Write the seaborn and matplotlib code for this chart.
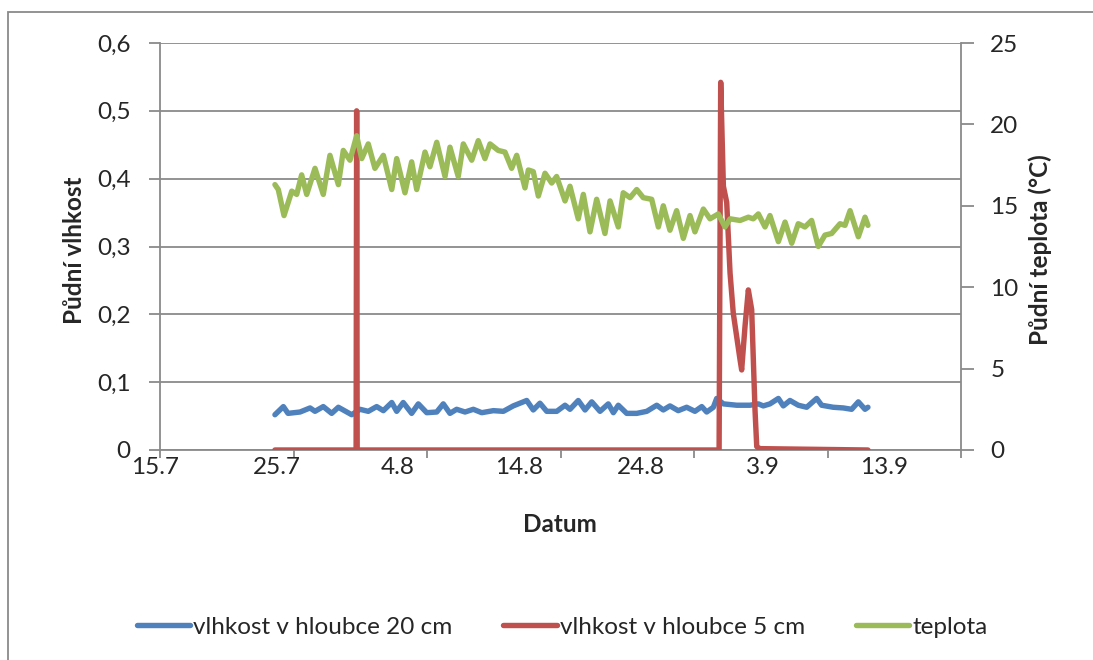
import matplotlib
matplotlib.use("Agg")
import matplotlib.pyplot as plt
import matplotlib.transforms as mtransforms
import seaborn as sns
import pandas as pd
import numpy as np
from matplotlib.patches import Rectangle
from matplotlib.lines import Line2D

# Time is given in days since 15 July 00:00
den_20cm = [8.61, 9.24, 9.59, 10.49, 11.24, 11.61, 12.23, 12.86, 13.36, 14.36,
            14.98, 15.60, 16.23, 16.73, 17.36, 17.73, 18.22, 18.85, 19.35, 19.98,
            20.73, 21.22, 21.72, 22.22, 22.85, 23.47, 24.10, 24.97, 25.72, 26.46,
            27.47, 27.96, 28.46, 28.97, 29.72, 30.34, 30.71, 31.33, 31.84, 32.34,
            32.96, 33.58, 33.96, 34.33, 34.96, 35.71, 36.46, 37.21, 37.70, 38.20,
            38.82, 39.45, 40.07, 40.58, 40.95, 41.45, 41.70, 42.20, 43.20, 44.19,
            44.82, 45.19, 45.69, 46.32, 46.69, 47.19, 47.81, 48.44, 49.19, 49.56,
            50.43, 51.18, 51.81, 52.31, 52.81, 53.03]
vlhkost_20cm = [0.052, 0.064, 0.054, 0.056, 0.062, 0.057, 0.064, 0.054, 0.063, 0.052,
                0.060, 0.057, 0.064, 0.058, 0.070, 0.057, 0.070, 0.054, 0.068, 0.055,
                0.056, 0.068, 0.054, 0.060, 0.056, 0.060, 0.055, 0.058, 0.057, 0.065,
                0.073, 0.059, 0.069, 0.057, 0.057, 0.066, 0.060, 0.073, 0.059, 0.071,
                0.057, 0.068, 0.055, 0.066, 0.054, 0.054, 0.057, 0.066, 0.059, 0.065,
                0.058, 0.063, 0.057, 0.064, 0.056, 0.063, 0.076, 0.068, 0.066, 0.066,
                0.068, 0.065, 0.068, 0.076, 0.065, 0.073, 0.066, 0.063, 0.076, 0.066,
                0.063, 0.062, 0.060, 0.071, 0.060, 0.063]

den_5cm = [8.61, 14.69, 14.73, 14.77, 41.88, 42.00, 42.20, 42.45, 42.70, 42.94,
           43.45, 43.57, 43.82, 44.07, 44.32, 44.57, 44.70, 44.94, 53.03]
vlhkost_5cm = [0.0, 0.0, 0.50, 0.0, 0.0, 0.542, 0.389, 0.365, 0.261, 0.202,
               0.133, 0.118, 0.182, 0.236, 0.207, 0.059, 0.005, 0.002, 0.0]

den_teplota = [8.61, 8.86, 9.29, 9.87, 10.24, 10.61, 10.99, 11.61, 12.23, 12.73,
               13.36, 13.73, 14.23, 14.73, 15.11, 15.60, 16.10, 16.73, 17.36, 17.73,
               18.35, 18.85, 19.23, 19.85, 20.22, 20.73, 21.35, 21.72, 22.34, 22.72,
               23.35, 23.84, 24.34, 24.72, 25.34, 25.84, 26.34, 26.72, 27.34, 27.59,
               27.96, 28.34, 28.84, 29.34, 29.71, 30.34, 30.71, 31.33, 31.71, 32.21,
               32.71, 33.33, 33.71, 34.33, 34.70, 35.21, 35.71, 36.20, 36.83, 37.33,
               37.70, 38.20, 38.70, 39.20, 39.70, 40.07, 40.70, 41.20, 41.82, 42.32,
               42.70, 43.45, 44.07, 44.44, 44.82, 45.32, 45.69, 46.32, 46.82, 47.32,
               47.81, 48.31, 48.81, 49.31, 49.81, 50.31, 50.94, 51.31, 51.69, 52.31,
               52.81, 53.03]
teplota = [16.3, 16.0, 14.4, 15.9, 15.7, 16.9, 15.7, 17.3, 15.7, 18.1,
           16.3, 18.4, 17.8, 19.3, 17.9, 18.8, 17.3, 18.1, 16.0, 17.9,
           15.8, 17.7, 16.0, 18.3, 17.4, 18.9, 16.8, 18.6, 16.8, 18.8,
           17.8, 19.0, 17.9, 18.8, 18.4, 18.3, 17.3, 18.1, 16.1, 17.2,
           17.1, 15.6, 17.0, 16.4, 16.8, 15.3, 16.2, 14.2, 15.7, 13.4,
           15.4, 13.3, 15.3, 13.7, 15.8, 15.5, 16.0, 15.5, 15.4, 13.7,
           15.0, 13.5, 14.7, 13.0, 14.4, 13.4, 14.8, 14.2, 14.5, 13.7,
           14.2, 14.1, 14.3, 14.2, 14.5, 13.7, 14.4, 12.8, 14.0, 12.7,
           13.9, 13.7, 14.1, 12.5, 13.2, 13.3, 13.9, 13.8, 14.7, 13.1,
           14.3, 13.8]

datum_popisky = ["15.7", "25.7", "4.8", "14.8", "24.8", "3.9", "13.9"]
vlhkost_ticks = [0.0, 0.1, 0.2, 0.3, 0.4, 0.5, 0.6]
teplota_ticks = [0, 5, 10, 15, 20, 25]

serie = ["vlhkost v hloubce 20 cm", "vlhkost v hloubce 5 cm", "teplota"]
barvy = ["#4F81BD", "#C0504D", "#9BBB59"]

sns.set_style("white")
plt.rcParams["font.family"] = ["Lato", "DejaVu Sans"]
SEDA = "#8a8a8a"
FS = 17.5

df20 = pd.DataFrame({"den": den_20cm, "vlhkost": vlhkost_20cm})
df5 = pd.DataFrame({"den": den_5cm, "vlhkost": vlhkost_5cm})
dft = pd.DataFrame({"den": den_teplota, "teplota": teplota})

fig = plt.figure(figsize=(10.93, 6.60), dpi=100)
ax = fig.add_axes([160 / 1093, 1 - 450 / 660, 801 / 1093, 407 / 660])
ax2 = ax.twinx()

lw = 3.9
kw = dict(lw=lw, solid_capstyle="round", solid_joinstyle="round", zorder=3)
sns.lineplot(data=df20, x="den", y="vlhkost", ax=ax, color=barvy[0], **kw)
sns.lineplot(data=df5, x="den", y="vlhkost", ax=ax, color=barvy[1], **kw)
sns.lineplot(data=dft, x="den", y="teplota", ax=ax2, color=barvy[2], **kw)

ax.set_xlim(0, 60)
ax.set_ylim(0, 0.6)
ax2.set_ylim(0, 25)

# horizontal grid
ax.set_yticks(vlhkost_ticks)
ax.set_yticklabels([("%.1f" % v).replace(".", ",") if v else "0" for v in vlhkost_ticks])
ax.yaxis.grid(True, color=SEDA, lw=1.3)
ax.set_axisbelow(True)
ax2.set_yticks(teplota_ticks)
ax2.set_yticklabels([str(v) for v in teplota_ticks])

# x axis: tick marks every 10 days, date labels laid out as rendered
ax.set_xticks(np.arange(0, 61, 10))
ax.set_xticklabels([""] * 7)
trans = mtransforms.blended_transform_factory(ax.transData, ax.transAxes)
for i, txt in enumerate(datum_popisky):
    ax.text(-0.37 + 9.1 * i, -17 / 407, txt, transform=trans, ha="center",
            va="center", fontsize=FS, clip_on=False)

for a in (ax, ax2):
    for s in a.spines.values():
        s.set_visible(False)
ax.spines["left"].set_visible(True)
ax.spines["bottom"].set_visible(True)
ax2.spines["right"].set_visible(True)
for s in (ax.spines["left"], ax.spines["bottom"], ax2.spines["right"]):
    s.set_color(SEDA)
    s.set_linewidth(1.3)

ax.tick_params(axis="y", direction="out", length=8, width=1.3,
               color=SEDA, labelsize=FS, pad=13, left=True)
ax.tick_params(axis="x", direction="out", length=6, width=1.3,
               color=SEDA, bottom=True)
ax2.tick_params(axis="y", direction="out", length=9, width=1.3, color=SEDA,
                labelsize=FS, pad=12, right=True)

ax.set_xlabel("")
ax.set_ylabel("")
ax2.set_ylabel("")
fig.text(75 / 1093, 1 - 250 / 660, "Půdní vlhkost", rotation=90, fontsize=17.5,
         fontweight="bold", ha="center", va="center")
fig.text(1040 / 1093, 1 - 250 / 660, "Půdní teplota (°C)", rotation=90, fontsize=17.5,
         fontweight="bold", ha="center", va="center")
fig.text(560 / 1093, 1 - 525 / 660, "Datum", fontsize=17.5, fontweight="bold",
         ha="center", va="center")

handles = [Line2D([], [], color=c, lw=lw, solid_capstyle="round") for c in barvy]
fig.legend(handles, serie, loc="center", bbox_to_anchor=(562 / 1093, 1 - 627 / 660),
           ncol=3, frameon=False, fontsize=FS, handlelength=2.2, handletextpad=0.12,
           columnspacing=2.1)

# chart frame
fig.patches.append(Rectangle((8 / 1093, -0.2), 1.2, 1.2 - 12 / 660,
                             transform=fig.transFigure, fill=False,
                             edgecolor=SEDA, lw=1.3))

fig.savefig("out.png", dpi=100)
